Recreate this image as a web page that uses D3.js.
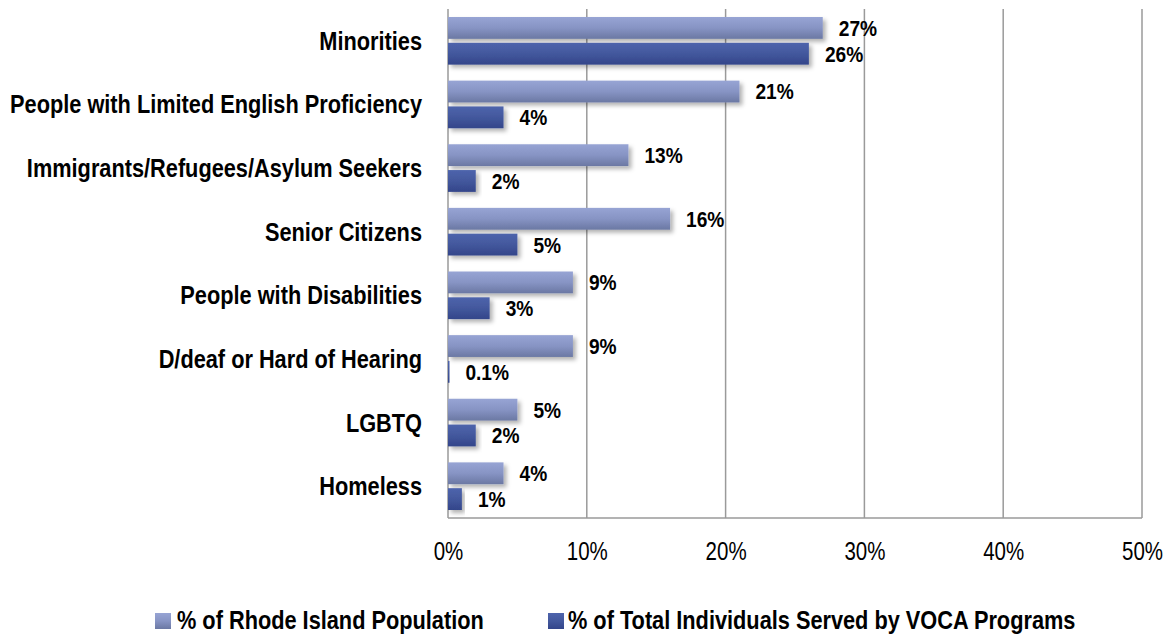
<!DOCTYPE html>
<html>
<head>
<meta charset="utf-8">
<script src="https://cdn.jsdelivr.net/npm/d3@7"></script>
<style>
  html, body { margin: 0; padding: 0; background: #fff; }
  svg { display: block; }
  text { font-family: "Liberation Sans", Arial, sans-serif; fill: #000; }
</style>
</head>
<body>
<svg id="chart" width="1169" height="635"></svg>
<script>
// Groups, top to bottom
const categories = [
  "Minorities",
  "People with Limited English Proficiency",
  "Immigrants/Refugees/Asylum Seekers",
  "Senior Citizens",
  "People with Disabilities",
  "D/deaf or Hard of Hearing",
  "LGBTQ",
  "Homeless"
];
const seriesNames = ["% of Rhode Island Population", "% of Total Individuals Served by VOCA Programs"];
const populationPct = [27, 21, 13, 16, 9, 9, 5, 4];
const servedPct = [26, 4, 2, 5, 3, 0.1, 2, 1];
const populationLabels = ["27%", "21%", "13%", "16%", "9%", "9%", "5%", "4%"];
const servedLabels = ["26%", "4%", "2%", "5%", "3%", "0.1%", "2%", "1%"];
const xTicks = [0, 10, 20, 30, 40, 50];
const xTickLabels = ["0%", "10%", "20%", "30%", "40%", "50%"];

// Narrow-face look: horizontally condensed sans
const NARROW_BOLD = 0.87;
const NARROW_REG = 0.82;

const svg = d3.select("#chart");
const plotLeft = 448, plotRight = 1142, plotTop = 9, plotBottom = 518;

const x = d3.scaleLinear().domain([0, 50]).range([plotLeft, plotRight]);
const y0 = d3.scaleBand().domain(categories).range([plotTop, plotBottom]).padding(0);
const y1 = d3.scaleBand().domain([0, 1]).range([8, y0.bandwidth() - 8]).paddingInner(0.154);

// Gradients and shadow
const defs = svg.append("defs");
const grads = [
  { id: "g0", stops: ["#97a4d4", "#8794c4", "#6b78a3"] },
  { id: "g1", stops: ["#4e64ac", "#43589d", "#33458a"] }
];
grads.forEach(g => {
  const lgr = defs.append("linearGradient").attr("id", g.id)
    .attr("x1", 0).attr("y1", 0).attr("x2", 0).attr("y2", 1);
  lgr.append("stop").attr("offset", "0%").attr("stop-color", g.stops[0]);
  lgr.append("stop").attr("offset", "50%").attr("stop-color", g.stops[1]);
  lgr.append("stop").attr("offset", "100%").attr("stop-color", g.stops[2]);
});
const f = defs.append("filter").attr("id", "shadow")
  .attr("x", "-10%").attr("y", "-30%").attr("width", "130%").attr("height", "180%");
f.append("feDropShadow").attr("dx", 3).attr("dy", 3).attr("stdDeviation", 2)
  .attr("flood-color", "#000").attr("flood-opacity", 0.3);

// Vertical gridlines
svg.append("g").selectAll("line").data(xTicks).join("line")
  .attr("x1", d => x(d)).attr("x2", d => x(d))
  .attr("y1", plotTop).attr("y2", plotBottom)
  .attr("stroke", "#9a9a9a").attr("stroke-width", 1.5);

// Bottom baseline
svg.append("line").attr("x1", plotLeft).attr("x2", plotRight).attr("y1", plotBottom).attr("y2", plotBottom)
  .attr("stroke", "#9a9a9a").attr("stroke-width", 1.5);

// X tick labels
const xAxis = d3.axisBottom(x).tickValues(xTicks).tickSize(0).tickPadding(0)
  .tickFormat((d, i) => xTickLabels[i]);
const ax = svg.append("g").attr("transform", `translate(0,560)`).call(xAxis);
ax.attr("font-family", null).attr("font-size", null);
ax.select(".domain").remove();
ax.selectAll("text").attr("font-size", 25).attr("dy", "0").attr("y", 0)
  .attr("transform", `scale(${NARROW_REG},1)`);

// Bars
const rows = categories.map((c, i) => ({
  cat: c,
  vals: [
    { s: 0, v: populationPct[i], label: populationLabels[i] },
    { s: 1, v: servedPct[i], label: servedLabels[i] }
  ]
}));

const groups = svg.append("g").selectAll("g").data(rows).join("g")
  .attr("transform", d => `translate(0,${y0(d.cat)})`);

groups.selectAll("rect").data(d => d.vals).join("rect")
  .attr("x", x(0))
  .attr("y", d => y1(d.s))
  .attr("width", d => Math.max(x(d.v) - x(0), 1.5))
  .attr("height", y1.bandwidth())
  .attr("fill", d => `url(#g${d.s})`)
  .attr("filter", "url(#shadow)");

groups.selectAll("text.val").data(d => d.vals).join("text")
  .attr("class", "val")
  .attr("transform", d => `translate(${x(d.v) + 16},${y1(d.s) + y1.bandwidth() / 2}) scale(${NARROW_BOLD},1)`)
  .attr("dy", "0.36em")
  .attr("font-size", 22).attr("font-weight", "bold")
  .text(d => d.label);

// Category labels
svg.append("g").selectAll("text").data(categories).join("text")
  .attr("transform", d => `translate(422,${y0(d) + y0.bandwidth() / 2}) scale(${NARROW_BOLD},1)`)
  .attr("dy", "0.36em")
  .attr("text-anchor", "end")
  .attr("font-size", 25).attr("font-weight", "bold")
  .text(d => d);

// Legend
const legendItems = [
  { s: 0, x: 155, tx: 177, name: seriesNames[0] },
  { s: 1, x: 548, tx: 568, name: seriesNames[1] }
];
const lg = svg.append("g").selectAll("g").data(legendItems).join("g");
lg.append("rect").attr("x", d => d.x).attr("y", 613).attr("width", 16).attr("height", 16)
  .attr("fill", d => `url(#g${d.s})`);
lg.append("text")
  .attr("transform", d => `translate(${d.tx},629) scale(${NARROW_BOLD},1)`)
  .attr("font-size", 25).attr("font-weight", "bold")
  .text(d => d.name);
</script>
</body>
</html>
